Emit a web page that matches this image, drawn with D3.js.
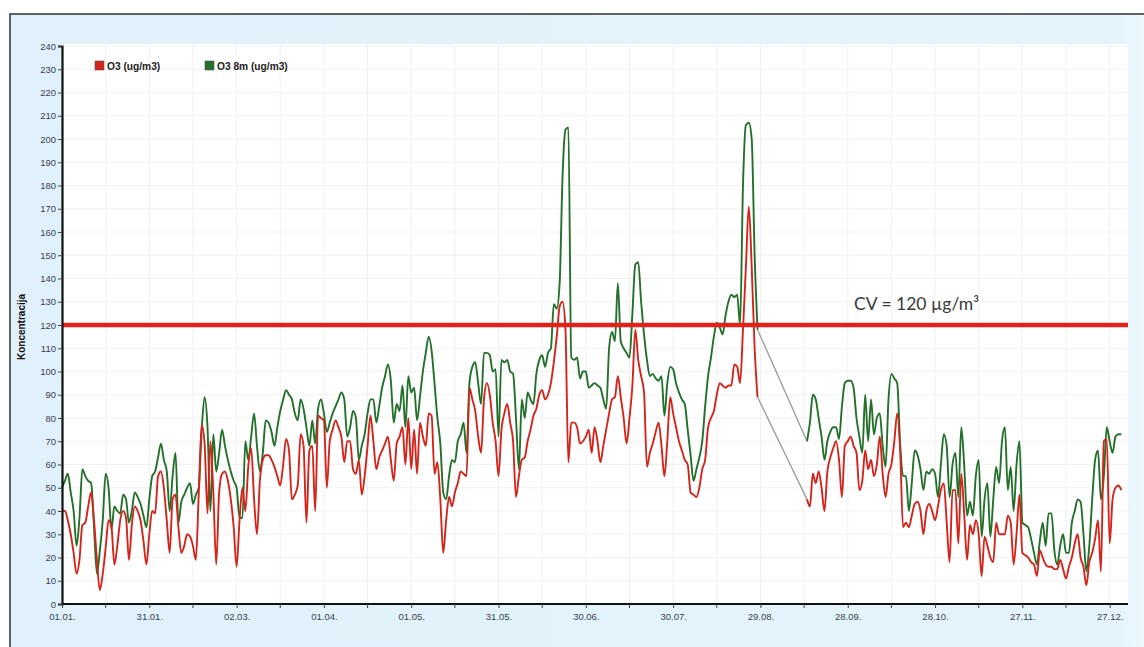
<!DOCTYPE html>
<html>
<head>
<meta charset="utf-8">
<script src="https://cdn.jsdelivr.net/npm/d3@7/dist/d3.min.js"></script>
<style>
  html, body { margin: 0; padding: 0; background: #ffffff; }
  svg { display: block; }
</style>
</head>
<body>
<svg id="chart" width="1144" height="647"></svg>
<script>
// ---------- DATA ----------
const seriesNames = ["O3 (ug/m3)", "O3 8m (ug/m3)"];
const xTickDays = [0, 30, 60, 90, 120, 150, 180, 210, 240, 270, 300, 330, 360];
const xTickLabels = ["01.01.", "31.01.", "02.03.", "01.04.", "01.05.", "31.05.", "30.06.", "30.07.", "29.08.", "28.09.", "28.10.", "27.11.", "27.12."];
const yTicks = [0,10,20,30,40,50,60,70,80,90,100,110,120,130,140,150,160,170,180,190,200,210,220,230,240];
const limitValue = 120;
const limitLabel = "CV = 120 µg/m³";
const N = null;

// daily O3 8h (green), days 0..364, null = missing
const o3_8m = [
  50, 53, 56, 48, 40, 25, 37, 58, 55, 53,
  52, 33, 13, 23, 36, 56, 50, 32, 42, 40,
  39, 47, 45, 35, 40, 48, 46, 43, 38, 33,
  45, 55, 57, 63, 69, 62, 57, 40, 55, 65,
  35, 44, 47, 50, 52, 43, 47, 50, 75, 89,
  76, 40, 73, 57, 65, 75, 68, 62, 57, 53,
  50, 37, 37, 70, 62, 72, 82, 68, 57, 65,
  79, 78, 74, 68, 76, 83, 88, 92, 90, 88,
  82, 79, 88, 84, 76, 68, 79, 69, 84, 88,
  82, 74, 78, 82, 85, 88, 91, 88, 72, 76,
  83, 80, 62, 68, 73, 82, 88, 88, 78, 85,
  93, 98, 103, 96, 78, 86, 83, 94, 76, 98,
  91, 93, 79, 89, 100, 108, 115, 109, 95, 80,
  69, 48, 45, 55, 62, 61, 70, 73, 78, 65,
  95, 102, 104, 95, 86, 108, 108, 107, 100, 101,
  72, 105, 104, 105, 100, 99, 80, 58, 88, 80,
  91, 88, 86, 99, 105, 107, 102, 108, 110, 129,
  127, 138, 184, 204, 205, 106, 105, 106, 97, 100,
  100, 93, 94, 95, 94, 93, 88, 84, 110, 117,
  113, 138, 113, 110, 108, 106, 125, 146, 147, 130,
  116, 105, 98, 99, 97, 96, 98, 81, 95, 102,
  101, 95, 91, 88, 86, 75, 64, 53, 58, 63,
  70, 85, 98, 106, 115, 121, 119, 116, 124, 130,
  133, 132, 133, 120, 180, 206, 207, 200, 150, 118,
  N, N, N, N, N, N, N, N, N, N,
  N, N, N, N, N, N, 70, 78, 90, 88,
  80, 72, 62, 70, 74, 76, 76, 71, 85, 95,
  96, 96, 93, 80, 72, 65, 90, 70, 88, 73,
  80, 82, 68, 59, 88, 99, 97, 95, 69, 55,
  55, 40, 52, 66, 64, 58, 49, 57, 56, 58,
  56, 46, 60, 73, 68, 46, 60, 65, 46, 76,
  60, 38, 44, 38, 55, 62, 29, 45, 52, 29,
  45, 59, 52, 70, 76, 49, 59, 40, 60, 70,
  35, 34, 33, 28, 22, 17, 27, 35, 25, 39,
  39, 23, 17, 25, 30, 22, 22, 35, 40, 45,
  44, 30, 14, 25, 45, 62, 66, 45, 55, 76,
  70, 65, 72, 73, 73
];

// daily O3 (red), days 0..364
const o3 = [
  40, 40, 36, 30, 22, 13, 19, 34, 35, 42,
  48, 36, 19, 6, 13, 24, 36, 33, 17, 25,
  36, 40, 37, 19, 34, 42, 40, 36, 27, 17,
  30, 40, 39, 55, 57, 50, 36, 22, 45, 47,
  33, 22, 25, 30, 29, 25, 19, 48, 77, 69,
  39, 70, 48, 17, 48, 56, 57, 53, 45, 33,
  16, 36, 50, 40, 59, 67, 45, 30, 53, 62,
  64, 64, 62, 59, 55, 51, 60, 71, 66, 45,
  47, 51, 73, 68, 35, 66, 68, 40, 81, 80,
  79, 50, 70, 75, 79, 76, 72, 61, 70, 70,
  58, 56, 62, 47, 55, 68, 81, 70, 58, 63,
  66, 69, 72, 62, 53, 69, 72, 76, 60, 80,
  58, 75, 56, 78, 72, 68, 82, 81, 56, 61,
  45, 22, 36, 46, 42, 48, 52, 57, 56, 55,
  93, 88, 83, 72, 65, 88, 95, 90, 78, 70,
  55, 75, 82, 86, 78, 70, 46, 55, 62, 63,
  70, 75, 81, 84, 90, 92, 88, 90, 95, 104,
  115, 128, 130, 118, 61, 78, 78, 76, 69, 70,
  72, 75, 65, 76, 70, 61, 68, 75, 82, 88,
  89, 98, 89, 80, 69, 80, 94, 118, 105, 98,
  91, 59, 65, 69, 74, 78, 68, 55, 70, 89,
  82, 76, 70, 66, 62, 60, 48, 47, 46, 50,
  58, 62, 76, 80, 83, 90, 95, 94, 93, 94,
  94, 103, 102, 95, 118, 145, 171, 145, 110, 89,
  N, N, N, N, N, N, N, N, N, N,
  N, N, N, N, N, N, 45, 42, 56, 52,
  57, 50, 40, 57, 63, 67, 70, 62, 46, 68,
  70, 72, 68, 65, 49, 53, 66, 58, 62, 55,
  60, 72, 56, 46, 56, 60, 70, 82, 66, 33,
  35, 33, 38, 43, 44, 40, 30, 40, 43, 40,
  36, 42, 49, 52, 35, 18, 49, 49, 26, 56,
  39, 19, 34, 30, 36, 30, 12, 29, 25, 20,
  18, 35, 30, 30, 30, 38, 35, 17, 30, 47,
  22, 21, 20, 18, 17, 12, 23, 20, 17, 16,
  16, 15, 15, 19, 15, 11, 16, 20, 26, 30,
  20, 16, 8, 18, 22, 28, 36, 14, 70, 71,
  26, 45, 50, 51, 49
];

// ---------- LAYOUT ----------
const svg = d3.select("#chart");
const W = 1144, H = 647;
const plot = { left: 62, right: 1128, top: 46, bottom: 604 };

const x = d3.scaleLinear().domain([0, 366.3]).range([plot.left, plot.right]);
const y = d3.scaleLinear().domain([0, 240]).range([plot.bottom, plot.top]);

// Outer frame
const defs = svg.append("defs");
const grad = defs.append("linearGradient").attr("id", "bg").attr("x1", "0").attr("x2", "1").attr("y1", "0").attr("y2", "0");
grad.append("stop").attr("offset", "0%").attr("stop-color", "#e0f1fb");
grad.append("stop").attr("offset", "97%").attr("stop-color", "#e5f4fc");
grad.append("stop").attr("offset", "100%").attr("stop-color", "#f0f9fe");
svg.append("rect").attr("x", 10).attr("y", 14).attr("width", W).attr("height", H)
  .attr("fill", "url(#bg)").attr("stroke", "#3c3c3c").attr("stroke-width", 1.6);

// Plot background
svg.append("rect").attr("x", plot.left).attr("y", plot.top - 2)
  .attr("width", plot.right - plot.left).attr("height", plot.bottom - plot.top + 2)
  .attr("fill", "#ffffff");

// Grid (very faint)
const grid = svg.append("g").attr("stroke", "#f1f1f1").attr("stroke-width", 1);
grid.selectAll("line.h").data(yTicks.slice(1)).join("line")
  .attr("x1", plot.left).attr("x2", plot.right)
  .attr("y1", d => y(d)).attr("y2", d => y(d));
const vGrid = d3.range(15, 366, 15);
grid.selectAll("line.v").data(vGrid).join("line")
  .attr("x1", d => x(d)).attr("x2", d => x(d))
  .attr("y1", plot.top).attr("y2", plot.bottom);

// Lines
const line = d3.line()
  .defined(d => d.v !== null)
  .x(d => x(d.day)).y(d => y(d.v))
  .curve(d3.curveMonotoneX);

function toPts(arr) { return arr.map((v, i) => ({ day: i, v: v })); }

function gapConnectors(arr) {
  const segs = [];
  for (let i = 1; i < arr.length; i++) {
    if (arr[i] === null && arr[i - 1] !== null) {
      let j = i;
      while (j < arr.length && arr[j] === null) j++;
      if (j < arr.length) segs.push([{ day: i - 1, v: arr[i - 1] }, { day: j, v: arr[j] }]);
    }
  }
  return segs;
}

const gapG = svg.append("g");
[o3_8m, o3].forEach(arr => {
  gapConnectors(arr).forEach(s => {
    gapG.append("line")
      .attr("x1", x(s[0].day)).attr("y1", y(s[0].v))
      .attr("x2", x(s[1].day)).attr("y2", y(s[1].v))
      .attr("stroke", "#9a9a9a").attr("stroke-width", 1.3);
  });
});

svg.append("path").datum(toPts(o3_8m))
  .attr("d", line).attr("fill", "none")
  .attr("stroke", "#23702a").attr("stroke-width", 1.9).attr("stroke-linejoin", "round");

svg.append("path").datum(toPts(o3))
  .attr("d", line).attr("fill", "none")
  .attr("stroke", "#d4251c").attr("stroke-width", 1.9).attr("stroke-linejoin", "round");

// Limit line
svg.append("line")
  .attr("x1", plot.left).attr("x2", plot.right)
  .attr("y1", y(limitValue)).attr("y2", y(limitValue))
  .attr("stroke", "#e3211b").attr("stroke-width", 4.5);

svg.append("text")
  .attr("x", 854).attr("y", y(limitValue) - 15)
  .attr("font-family", "Lato, 'Open Sans', sans-serif")
  .attr("font-size", 17.5).attr("fill", "#3a3a3a")
  .text(limitLabel);

// Axes
const tickFont = "'Liberation Sans', Arial, sans-serif";
const yAxis = svg.append("g").attr("transform", `translate(${plot.left},0)`)
  .call(d3.axisLeft(y).tickValues(yTicks).tickSize(4).tickPadding(2));
yAxis.select(".domain").attr("stroke", "#111").attr("stroke-width", 2.2);
yAxis.selectAll(".tick line").attr("stroke", "#444");
yAxis.selectAll(".tick text").attr("font-family", tickFont)
  .attr("font-size", 9.5).attr("fill", "#3a3f50");

const xAxis = svg.append("g").attr("transform", `translate(0,${plot.bottom})`)
  .call(d3.axisBottom(x).tickValues(xTickDays)
    .tickFormat((d, i) => xTickLabels[i]).tickSize(4).tickPadding(5).tickSizeOuter(0));
xAxis.select(".domain").attr("stroke", "#111").attr("stroke-width", 2.2)
  .attr("d", `M${plot.left},0H${plot.right}`);
xAxis.selectAll(".tick line").attr("stroke", "#444");
xAxis.selectAll(".tick text").attr("font-family", tickFont)
  .attr("font-size", 9.5).attr("fill", "#3a3f50");

const minorDays = d3.range(15, 366, 30);
svg.append("g").selectAll("line").data(minorDays).join("line")
  .attr("x1", d => x(d)).attr("x2", d => x(d))
  .attr("y1", plot.bottom).attr("y2", plot.bottom + 4)
  .attr("stroke", "#444");

// Y label
svg.append("text")
  .attr("transform", `translate(25,${(plot.top + plot.bottom) / 2 + 2}) rotate(-90)`)
  .attr("text-anchor", "middle")
  .attr("font-family", tickFont).attr("font-weight", "bold")
  .attr("font-size", 10).attr("fill", "#111")
  .text("Koncentracija");

// Legend
const legendColors = ["#d4251c", "#23702a"];
const legendX = [95, 205];
const lg = svg.append("g");
seriesNames.forEach((name, i) => {
  lg.append("rect").attr("x", legendX[i]).attr("y", 61).attr("width", 9).attr("height", 9)
    .attr("fill", legendColors[i]).attr("stroke", "#555").attr("stroke-width", 0.6);
  lg.append("text").attr("x", legendX[i] + 12).attr("y", 69.5)
    .attr("font-family", tickFont).attr("font-weight", "bold")
    .attr("font-size", 10.2).attr("fill", "#222")
    .text(name);
});
</script>
</body>
</html>
